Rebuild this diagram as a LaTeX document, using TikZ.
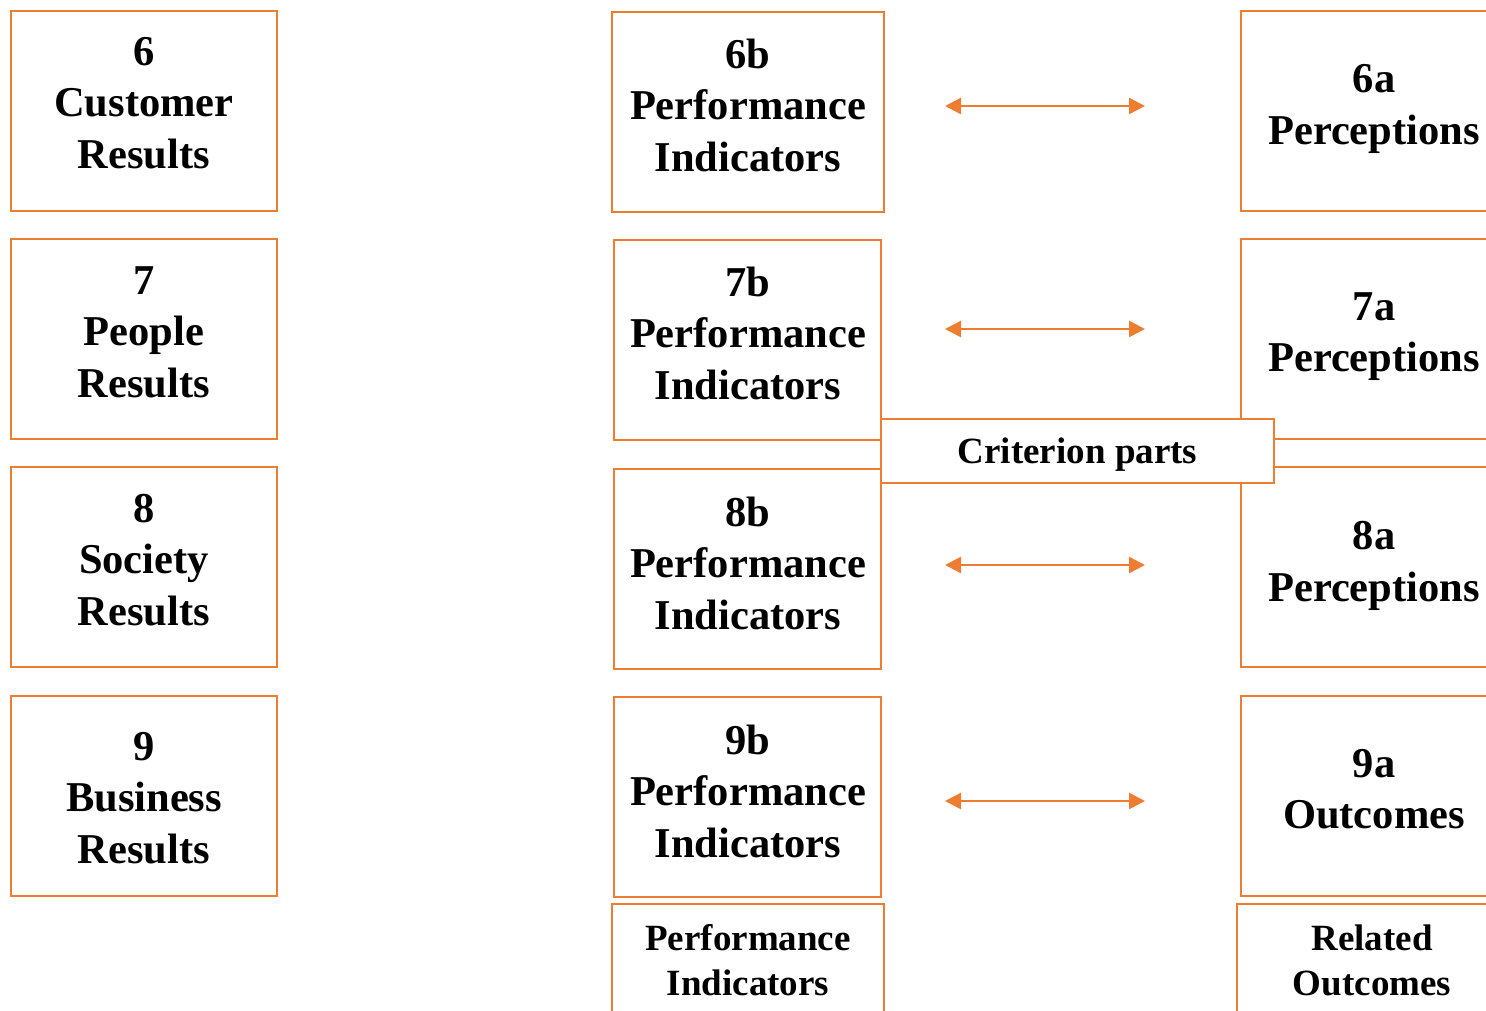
\documentclass[tikz,border=0pt]{standalone}
\usepackage{fontspec}
\setmainfont{Liberation Serif}
\usetikzlibrary{arrows.meta}
\definecolor{accent}{RGB}{237,125,49}
\begin{document}
\begin{tikzpicture}[x=1pt,y=-1pt,
  frame/.style={draw=accent,line width=2.5pt,fill=white},
  big/.style={align=center,font=\bfseries\fontsize{42.5}{51.5}\selectfont},
  small/.style={align=center,font=\bfseries\fontsize{37}{45}\selectfont},
  link/.style={draw=accent,line width=2.5pt,{Triangle[length=16pt,width=16pt]}-{Triangle[length=16pt,width=16pt]}}]
\useasboundingbox (0,0) rectangle (1486,1010);
\clip (0,0) rectangle (1486,1010);
\fill[white] (0,0) rectangle (1486,1010);

% left column: criteria
\draw[frame] (11,11) rectangle (277,211) coordinate (b6);
\draw[frame] (11,239) rectangle (277,439) coordinate (b7);
\draw[frame] (11,467) rectangle (277,667) coordinate (b8);
\draw[frame] (11,696) rectangle (277,896) coordinate (b9);
\node[big] (t6) at (144,103) {6\\Customer\\Results};
\node[big] (t7) at (144,332) {7\\People\\Results};
\node[big] (t8) at (144,560) {8\\Society\\Results};
\node[big] (t9) at (144,798) {9\\Business\\Results};

% middle column: performance indicators
\draw[frame] (612,12) rectangle (884,212) coordinate (b6b);
\draw[frame] (614,240) rectangle (881,440) coordinate (b7b);
\draw[frame] (614,469) rectangle (881,669) coordinate (b8b);
\draw[frame] (614,697) rectangle (881,897) coordinate (b9b);
\draw[frame] (612,904) rectangle (884,1040) coordinate (bpi);
\node[big] (t6b) at (748,105) {6b\\Performance\\Indicators};
\node[big] (t7b) at (748,333) {7b\\Performance\\Indicators};
\node[big] (t8b) at (748,563) {8b\\Performance\\Indicators};
\node[big] (t9b) at (748,791) {9b\\Performance\\Indicators};
\node[small] (tpi) at (748,960) {Performance\\Indicators};

% right column: perceptions and outcomes
\draw[frame] (1241,11) rectangle (1510,211) coordinate (b6a);
\draw[frame] (1241,239) rectangle (1510,439) coordinate (b7a);
\draw[frame] (1241,467) rectangle (1510,667) coordinate (b8a);
\draw[frame] (1241,696) rectangle (1510,896) coordinate (b9a);
\draw[frame] (1237,904) rectangle (1510,1040) coordinate (bro);
\node[big] (t6a) at (1374,109) {6a\\Perceptions};
\node[big] (t7a) at (1374,336.5) {7a\\Perceptions};
\node[big] (t8a) at (1374,566) {8a\\Perceptions};
\node[big] (t9a) at (1374,789) {9a\\Outcomes};
\node[small] (tro) at (1372,960) {Related\\Outcomes};

% caption box across the middle
\node[frame,minimum width=393pt,minimum height=64pt,inner sep=0pt] (crit) at (1077.5,451) {};
\node[small] (crittext) at (1077.5,455) {Criterion parts};

% two-way links between the parts
\coordinate (l6) at (945,106);  \coordinate (r6) at (1145,106);
\coordinate (l7) at (945,329);  \coordinate (r7) at (1145,329);
\coordinate (l8) at (945,565);  \coordinate (r8) at (1145,565);
\coordinate (l9) at (945,801);  \coordinate (r9) at (1145,801);
\draw[link] (l6) -- (r6);
\draw[link] (l7) -- (r7);
\draw[link] (l8) -- (r8);
\draw[link] (l9) -- (r9);
\end{tikzpicture}
\end{document}
